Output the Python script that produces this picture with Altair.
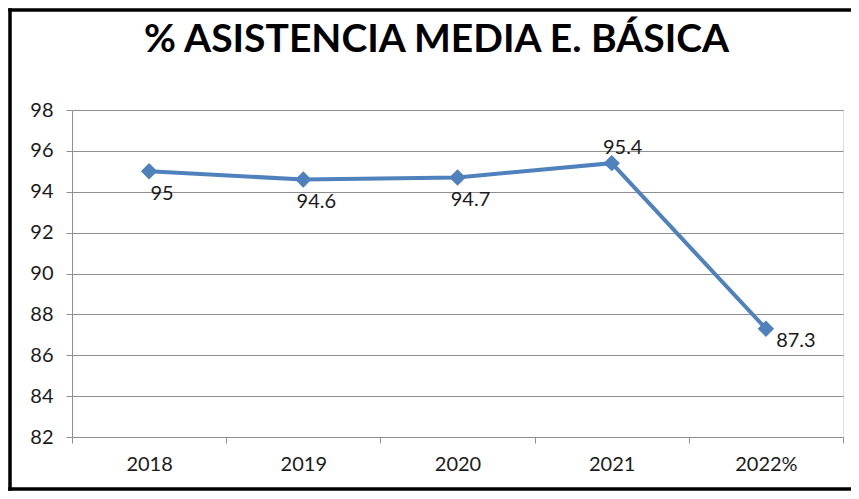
import altair as alt
import pandas as pd

years = ["2018", "2019", "2020", "2021", "2022%"]
values = [95, 94.6, 94.7, 95.4, 87.3]
label_pos = ["below", "below", "below", "above", "right"]
title_text = "% ASISTENCIA MEDIA E. BÁSICA"
y_ticks = [82, 84, 86, 88, 90, 92, 94, 96, 98]

df = pd.DataFrame({"year": years, "value": values, "pos": label_pos})

BLUE = "#4F81BD"
GRID = "#8f8f8f"
TXT = "#1a1a1a"
W, H = 771, 327

x_enc = alt.X(
    "year:N",
    sort=years,
    bandPosition=0.5,
    scale=alt.Scale(type="band", paddingInner=0, paddingOuter=0),
    axis=alt.Axis(
        title=None, labelAngle=0, tickBand="extent", grid=False,
        domainColor=GRID, tickColor=GRID, tickSize=6,
        labelFont="Lato", labelFontSize=20, labelColor=TXT, labelPadding=11,
    ),
)
y_enc = alt.Y(
    "value:Q",
    scale=alt.Scale(domain=[82, 98], nice=False, zero=False),
    axis=alt.Axis(
        title=None, values=y_ticks, grid=True, gridColor=GRID, gridWidth=1,
        domainColor=GRID, tickColor=GRID, tickSize=6,
        labelFont="Lato", labelFontSize=20, labelColor=TXT, labelPadding=13,
    ),
)

base = alt.Chart(df)
line = base.mark_line(color=BLUE, strokeWidth=4).encode(x=x_enc, y=y_enc)
pts = base.mark_point(shape="diamond", filled=True, size=270, opacity=1, color=BLUE).encode(x=x_enc, y=y_enc)

def labels(pos, dx, dy):
    return base.transform_filter(alt.datum.pos == pos).mark_text(
        font="Lato", fontSize=20, color=TXT, dx=dx, dy=dy, baseline="middle"
    ).encode(x=x_enc, y=y_enc, text=alt.Text("value:Q"))

lab_below = labels("below", 13, 23)
lab_above = labels("above", 11, -15)
lab_right = labels("right", 30, 12)

one = alt.Data(values=[{"t": title_text}])
title = alt.Chart(one).mark_text(
    font="Lato", fontSize=39, fontWeight="bold", color="#000000",
    align="center", baseline="alphabetic",
).encode(x=alt.value(364.5), y=alt.value(-58), text="t:N")

def frame_rule(**kw):
    return alt.Chart(one).mark_rule(color="#000000", strokeWidth=3.5).encode(**kw)

frame_top = frame_rule(x=alt.value(-63.75), x2=alt.value(W + 60), y=alt.value(-100))
frame_bottom = frame_rule(x=alt.value(-63.75), x2=alt.value(W + 60), y=alt.value(H + 52))
frame_left = frame_rule(x=alt.value(-62), y=alt.value(-101.75), y2=alt.value(H + 53.75))

chart = alt.layer(frame_top, frame_bottom, frame_left, line, pts,
                  lab_below, lab_above, lab_right, title).properties(
    width=W, height=H,
    autosize=alt.AutoSizeParams(type="none"),
    padding={"left": 64, "top": 102, "right": 8, "bottom": 54},
).configure_view(stroke=None).configure(background="white")

chart.save("out.html", embed_options={"renderer": "svg", "actions": False})
